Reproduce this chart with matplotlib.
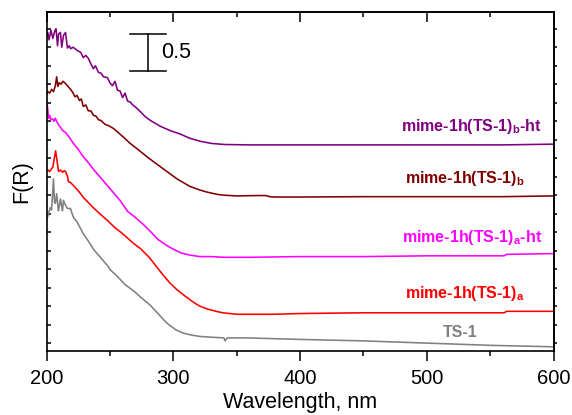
import matplotlib
matplotlib.use("Agg")
import matplotlib.pyplot as plt
import numpy as np
from matplotlib.ticker import MultipleLocator, FixedLocator, NullFormatter

plt.rcParams['font.family'] = ['Liberation Sans', 'DejaVu Sans']
plt.rcParams['mathtext.fontset'] = 'custom'
plt.rcParams['mathtext.bf'] = 'Liberation Sans:bold'

# diffuse reflectance spectra, Kubelka-Munk F(R), stacked with offsets
wl_bht = [200, 201, 202, 203.5, 205, 206.5, 207.5, 208.7, 209.5, 211, 212, 213.4, 215, 216.5,
          218, 219, 221, 224, 227, 229, 231, 233, 234.6, 237, 238.6, 241, 243, 245, 248, 250,
          252, 254, 256, 258, 260, 262, 264, 266, 268, 271, 274, 278, 282, 286, 290, 298, 305,
          313, 321, 330, 337, 341, 360, 400, 450, 500, 560, 600]
f_bht = [4.24, 4.30, 4.20, 4.33, 4.22, 4.32, 4.35, 4.12, 4.28, 4.30, 4.10, 4.26, 4.30, 4.09,
         4.12, 4.08, 4.10, 4.06, 4.03, 3.96, 3.99, 3.95, 3.89, 3.81, 3.85, 3.76, 3.75, 3.70, 3.69, 3.62,
         3.58, 3.64, 3.52, 3.51, 3.42, 3.48, 3.37, 3.36, 3.32, 3.28, 3.23, 3.16, 3.11, 3.07, 3.03, 2.97, 2.93,
         2.87, 2.83, 2.80, 2.79, 2.785, 2.78, 2.78, 2.78, 2.78, 2.78, 2.79]

wl_b = [200, 201, 202.5, 204, 205.5, 207, 208, 209, 210, 211.5, 213, 215, 216.5, 218, 219.5,
        221, 222.5, 224, 226, 227.5, 229, 231, 233, 235, 237, 239, 241, 243, 246, 249, 253, 257,
        261, 266, 272, 280, 287, 295, 303, 308, 313, 321, 327, 335, 340, 350, 366, 373, 376, 380,
        400, 450, 500, 560, 600]
f_b = [3.46, 3.50, 3.48, 3.53, 3.50, 3.58, 3.70, 3.57, 3.62, 3.60, 3.64, 3.61, 3.58, 3.55, 3.52,
       3.48, 3.43, 3.45, 3.38, 3.40, 3.30, 3.32, 3.24, 3.24, 3.18, 3.17, 3.12, 3.11, 3.06, 3.04, 3.00, 2.94,
       2.88, 2.80, 2.72, 2.61, 2.52, 2.42, 2.32, 2.27, 2.22, 2.17, 2.14, 2.11, 2.10, 2.09, 2.095, 2.095, 2.08, 2.075,
       2.075, 2.08, 2.08, 2.08, 2.09]

wl_aht = [200, 200.8, 201.6, 202.5, 203.5, 205, 206, 207, 208, 209.5, 211, 213, 215, 218, 221.3,
          225, 229, 233, 237, 242, 248, 253, 258, 264, 270, 276, 282, 288, 294, 300, 306, 313, 321,
          330, 340, 360, 400, 450, 500, 561, 563, 600]
f_aht = [3.38, 3.30, 3.14, 3.18, 3.12, 3.13, 3.10, 3.14, 3.10, 3.05, 3.02, 2.97, 2.95, 2.88, 2.80,
         2.72, 2.62, 2.54, 2.45, 2.35, 2.23, 2.13, 2.03, 1.88, 1.80, 1.71, 1.61, 1.50, 1.43, 1.37, 1.32, 1.29, 1.27,
         1.27, 1.26, 1.26, 1.27, 1.27, 1.28, 1.28, 1.30, 1.31]

wl_a = [200, 201, 202.5, 204, 205, 206, 207.2, 208, 208.7, 209.5, 211, 212.6, 214, 215, 216.5,
        217.3, 219, 221.3, 224, 226, 229, 233, 237, 242, 248, 254, 260, 268.5, 274, 281, 287.4, 292,
        297, 303, 309, 313, 317, 321, 327, 335, 339, 350, 379, 400, 450, 500, 561, 563, 600]
f_a = [2.43, 2.44, 2.42, 2.46, 2.48, 2.58, 2.70, 2.60, 2.52, 2.42, 2.44, 2.41, 2.43, 2.42, 2.36,
       2.28, 2.27, 2.23, 2.18, 2.14, 2.07, 2.00, 1.93, 1.85, 1.76, 1.66, 1.58, 1.45, 1.38, 1.26, 1.12, 1.02,
       0.92, 0.82, 0.74, 0.69, 0.64, 0.60, 0.56, 0.525, 0.51, 0.49, 0.49, 0.50, 0.51, 0.51, 0.51, 0.53, 0.53]

wl_ts1 = [200, 200.8, 201.6, 203, 204, 205.5, 206.3, 207, 208, 209.4, 210.2, 211, 212, 212.6,
          213.4, 214.5, 216.5, 218.9, 220, 221.3, 224.4, 229, 233, 237, 242, 248, 250.4, 256, 262,
          268.5, 275, 282, 289, 295, 302, 308, 314, 321, 330, 340, 340.9, 342.5, 360, 379, 400,
          450, 500, 550, 600]
f_ts1 = [1.78, 1.80, 1.86, 1.93, 1.90, 2.32, 2.00, 1.99, 2.12, 1.89, 1.96, 2.05, 1.95, 1.89,
         2.03, 1.98, 1.92, 1.92, 1.86, 1.80, 1.73, 1.58, 1.48, 1.37, 1.27, 1.15, 1.09, 1.00, 0.89,
         0.81, 0.71, 0.61, 0.48, 0.37, 0.28, 0.235, 0.21, 0.19, 0.18, 0.17, 0.13, 0.17, 0.17, 0.16, 0.15,
         0.13, 0.10, 0.07, 0.05]

spectra = [
    (wl_bht, f_bht, '#800080'),
    (wl_b, f_b, '#800000'),
    (wl_aht, f_aht, '#ff00ff'),
    (wl_a, f_a, '#ff0000'),
    (wl_ts1, f_ts1, '#808080'),
]

labels = [
    (591, 3.03, r'mime-1h(TS-1)$_\mathbf{b}$-ht', '#800080'),
    (577, 2.32, r'mime-1h(TS-1)$_\mathbf{b}$', '#800000'),
    (591, 1.53, r'mime-1h(TS-1)$_\mathbf{a}$-ht', '#ff00ff'),
    (577, 0.77, r'mime-1h(TS-1)$_\mathbf{a}$', '#ff0000'),
    (540, 0.24, 'TS-1', '#808080'),
]

fig = plt.figure(figsize=(5.72, 4.15), dpi=100)
ax = fig.add_axes([0.0813, 0.1554, 0.8864, 0.8145])

for wl, f, c in spectra:
    ax.plot(wl, f, color=c, lw=1.15)

for x, y, txt, c in labels:
    ax.text(x, y, txt, color=c, fontsize=11.5, fontweight='bold', ha='right', va='center')

# 0.5 scale bar
ax.plot([280.3, 280.3], [3.78, 4.28], color='black', lw=1.1)
ax.plot([266, 294], [4.28, 4.28], color='black', lw=1.1)
ax.plot([266, 294], [3.78, 3.78], color='black', lw=1.1)
ax.text(290.8, 4.03, '0.5', fontsize=15.5, ha='left', va='center')

ax.set_xlim(200, 600)
ax.set_ylim(0, 4.57)
ax.xaxis.set_major_locator(MultipleLocator(100))
ax.xaxis.set_minor_locator(MultipleLocator(50))
ax.yaxis.set_major_locator(FixedLocator(np.arange(0.1, 4.57, 0.25)))
ax.yaxis.set_major_formatter(NullFormatter())
ax.tick_params(axis='x', which='major', direction='out', length=7, width=1.1, labelsize=14.5, pad=6)
ax.tick_params(axis='x', which='minor', direction='out', length=3.5, width=1.1)
ax.tick_params(axis='y', which='major', direction='in', length=3, width=1.1)
for s in ax.spines.values():
    s.set_linewidth(1.2)

top = ax.secondary_xaxis('top')
top.xaxis.set_major_locator(MultipleLocator(100))
top.xaxis.set_minor_locator(MultipleLocator(50))
top.tick_params(which='major', direction='in', length=7, width=1.1, labeltop=False)
top.tick_params(which='minor', direction='in', length=3.5, width=1.1)
top.spines['top'].set_linewidth(1.2)

right = ax.secondary_yaxis('right')
right.yaxis.set_major_locator(FixedLocator(np.arange(0.1, 4.57, 0.25)))
right.tick_params(direction='out', length=2, width=1.1, labelright=False)
right.spines['right'].set_linewidth(1.2)

ax.set_xlabel('Wavelength, nm', fontsize=15.5, labelpad=3)
ax.set_ylabel('F(R)', fontsize=15.5, labelpad=7)

fig.savefig('out.png', dpi=100)
